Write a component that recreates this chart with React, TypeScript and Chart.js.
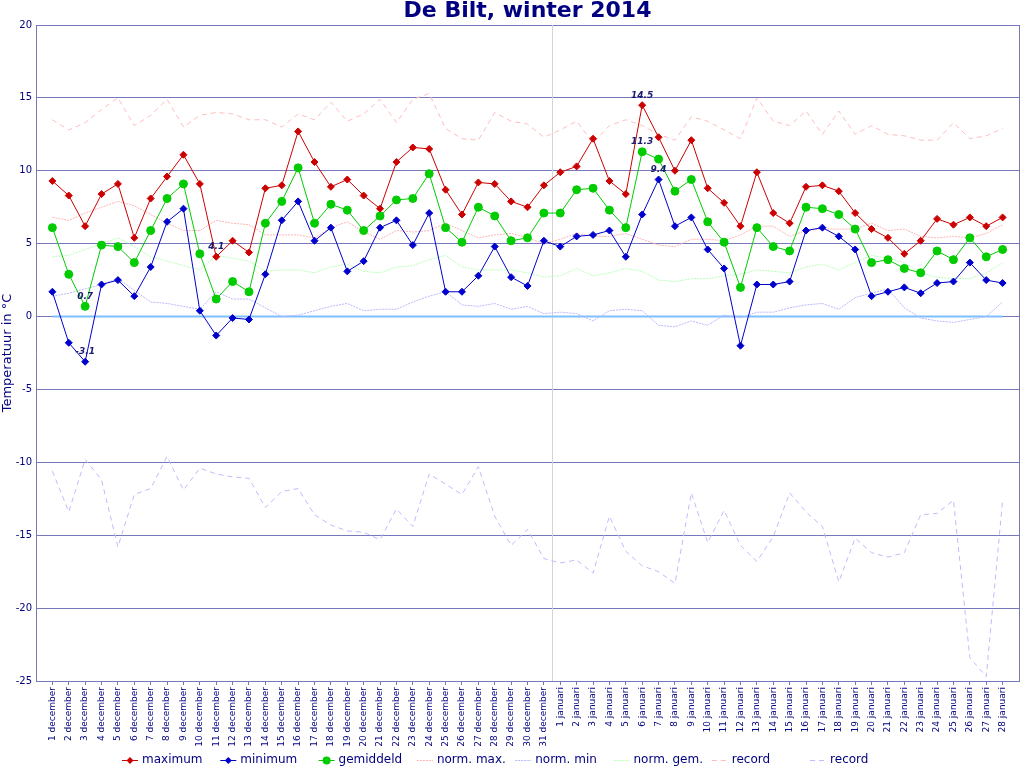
import { useEffect, useRef } from 'react';
import { Chart, registerables } from 'chart.js';

Chart.register(...registerables);

const FONT = 'DejaVu Sans';
const NAVY = '#000080';
const GRID = '#7777bb';

const decemberLabels = [
  '1 december', '2 december', '3 december', '4 december', '5 december', '6 december',
  '7 december', '8 december', '9 december', '10 december', '11 december', '12 december',
  '13 december', '14 december', '15 december', '16 december', '17 december', '18 december',
  '19 december', '20 december', '21 december', '22 december', '23 december', '24 december',
  '25 december', '26 december', '27 december', '28 december', '29 december', '30 december',
  '31 december',
];
const januariLabels = [
  '1 januari', '2 januari', '3 januari', '4 januari', '5 januari', '6 januari', '7 januari',
  '8 januari', '9 januari', '10 januari', '11 januari', '12 januari', '13 januari', '14 januari',
  '15 januari', '16 januari', '17 januari', '18 januari', '19 januari', '20 januari',
  '21 januari', '22 januari', '23 januari', '24 januari', '25 januari', '26 januari',
  '27 januari', '28 januari',
];
const days = [...decemberLabels, ...januariLabels];

const maximum = [
  9.3, 8.3, 6.2, 8.4, 9.1, 5.4, 8.1, 9.6, 11.1, 9.1, 4.1, 5.2, 4.4, 8.8, 9.0, 12.7, 10.6, 8.9,
  9.4, 8.3, 7.4, 10.6, 11.6, 11.5, 8.7, 7.0, 9.2, 9.1, 7.9, 7.5, 9.0,
  9.9, 10.3, 12.2, 9.3, 8.4, 14.5, 12.3, 10.0, 12.1, 8.8, 7.8, 6.2, 9.9, 7.1, 6.4, 8.9, 9.0,
  8.6, 7.1, 6.0, 5.4, 4.3, 5.2, 6.7, 6.3, 6.8, 6.2, 6.8,
];
const minimum = [
  1.7, -1.8, -3.1, 2.2, 2.5, 1.4, 3.4, 6.5, 7.4, 0.4, -1.3, -0.1, -0.2, 2.9, 6.6, 7.9, 5.2, 6.1,
  3.1, 3.8, 6.1, 6.6, 4.9, 7.1, 1.7, 1.7, 2.8, 4.8, 2.7, 2.1, 5.2,
  4.8, 5.5, 5.6, 5.9, 4.1, 7.0, 9.4, 6.2, 6.8, 4.6, 3.3, -2.0, 2.2, 2.2, 2.4, 5.9, 6.1, 5.5,
  4.6, 1.4, 1.7, 2.0, 1.6, 2.3, 2.4, 3.7, 2.5, 2.3,
];
const gemiddeld = [
  6.1, 2.9, 0.7, 4.9, 4.8, 3.7, 5.9, 8.1, 9.1, 4.3, 1.2, 2.4, 1.7, 6.4, 7.9, 10.2, 6.4, 7.7,
  7.3, 5.9, 6.9, 8.0, 8.1, 9.8, 6.1, 5.1, 7.5, 6.9, 5.2, 5.4, 7.1,
  7.1, 8.7, 8.8, 7.3, 6.1, 11.3, 10.8, 8.6, 9.4, 6.5, 5.1, 2.0, 6.1, 4.8, 4.5, 7.5, 7.4, 7.0,
  6.0, 3.7, 3.9, 3.3, 3.0, 4.5, 3.9, 5.4, 4.1, 4.6,
];
const normMax = [
  6.8, 6.6, 7.1, 7.5, 7.9, 7.6, 7.0, 6.4, 5.9, 5.9, 6.6, 6.4, 6.3, 5.6, 5.6, 5.6, 5.4, 6.1,
  6.5, 5.8, 5.3, 5.9, 5.8, 5.9, 6.4, 5.9, 5.4, 5.6, 5.7, 5.4, 5.0,
  5.3, 5.7, 5.5, 5.5, 5.7, 5.3, 4.9, 4.8, 5.3, 5.3, 5.2, 5.6, 6.2, 6.2, 5.5, 5.9, 6.0, 6.0,
  6.0, 6.4, 5.9, 6.0, 5.5, 5.4, 5.5, 5.4, 5.7, 6.3,
];
const normMin = [
  1.4, 1.6, 1.9, 2.2, 2.6, 1.8, 1.0, 0.9, 0.7, 0.5, 1.7, 1.2, 1.2, 0.6, 0.0, 0.1, 0.4, 0.7,
  0.9, 0.4, 0.5, 0.5, 1.0, 1.4, 1.7, 0.8, 0.7, 0.9, 0.5, 0.7, 0.2,
  0.3, 0.2, -0.3, 0.4, 0.5, 0.4, -0.6, -0.7, -0.3, -0.6, 0.1, -0.1, 0.3, 0.3, 0.6, 0.8, 0.9,
  0.5, 1.3, 1.6, 1.9, 0.6, -0.1, -0.3, -0.4, -0.2, 0.0, 1.0,
];
const normGem = [
  4.1, 4.2, 4.6, 5.0, 5.4, 4.8, 4.1, 3.8, 3.5, 3.2, 4.2, 4.0, 3.8, 3.1, 3.2, 3.2, 3.0, 3.4,
  3.6, 3.1, 3.0, 3.4, 3.5, 3.9, 4.2, 3.4, 3.2, 3.2, 3.2, 3.0, 2.7,
  2.8, 3.3, 2.8, 3.0, 3.3, 3.1, 2.5, 2.4, 2.6, 2.6, 2.8, 2.9, 3.2, 3.1, 3.0, 3.4, 3.6, 3.2,
  3.7, 4.2, 4.0, 3.7, 3.0, 2.7, 2.6, 2.6, 3.0, 3.7,
];
const recordMax = [
  13.5, 12.8, 13.3, 14.2, 15.0, 13.1, 13.8, 14.9, 13.0, 13.8, 14.0, 13.9, 13.5, 13.5, 13.0,
  13.9, 13.5, 14.7, 13.4, 13.9, 14.9, 13.3, 14.9, 15.3, 12.9, 12.2, 12.1, 14.0, 13.4, 13.2, 12.3,
  12.8, 13.4, 11.9, 13.1, 13.5, 13.1, 12.5, 12.1, 13.7, 13.4, 12.8, 12.2, 15.0, 13.4, 13.1,
  14.1, 12.5, 14.1, 12.5, 13.1, 12.5, 12.4, 12.1, 12.1, 13.3, 12.2, 12.4, 12.9,
];
const recordMin = [
  -10.6, -13.4, -9.8, -11.2, -15.8, -12.2, -11.8, -9.6, -11.9, -10.4, -10.8, -11.0, -11.1,
  -13.1, -12.0, -11.8, -13.6, -14.3, -14.7, -14.8, -15.3, -13.2, -14.4, -10.8, -11.5, -12.2,
  -10.3, -13.7, -15.7, -14.6, -16.6,
  -16.9, -16.7, -17.6, -13.7, -16.1, -17.1, -17.5, -18.3, -12.1, -15.5, -13.3, -15.7, -16.8,
  -15.1, -12.1, -13.4, -14.4, -18.2, -15.2, -16.2, -16.5, -16.2, -13.6, -13.5, -12.6, -23.4,
  -24.7, -12.6,
];

const toXY = (arr: number[]) => arr.map((y, i) => ({ x: i + 1, y }));

// grid frame, year separator and the 0 degree line
const framePlugin = {
  id: 'frame',
  beforeDatasetsDraw(chart: any) {
    const { ctx, chartArea, scales } = chart;
    const x = scales.x;
    const y = scales.y;
    ctx.save();
    ctx.strokeStyle = '#d4d4d4';
    ctx.lineWidth = 1;
    const sep = Math.round(x.getPixelForValue(decemberLabels.length + 0.5)) + 0.5;
    ctx.beginPath();
    ctx.moveTo(sep, chartArea.top);
    ctx.lineTo(sep, chartArea.bottom);
    ctx.stroke();

    ctx.strokeStyle = GRID;
    ctx.beginPath();
    ctx.moveTo(chartArea.right + 0.5, chartArea.top);
    ctx.lineTo(chartArea.right + 0.5, chartArea.bottom);
    ctx.stroke();

    ctx.strokeStyle = '#80bfff';
    ctx.lineWidth = 2;
    const y0 = y.getPixelForValue(0);
    ctx.beginPath();
    ctx.moveTo(x.getPixelForValue(1), y0);
    ctx.lineTo(x.getPixelForValue(days.length), y0);
    ctx.stroke();
    ctx.restore();
  },
};

// labels at highest and lowest value of the three measured series
const extremesPlugin = {
  id: 'extremes',
  afterDatasetsDraw(chart: any) {
    const { ctx } = chart;
    ctx.save();
    ctx.font = `italic bold 9px "${FONT}"`;
    ctx.fillStyle = '#1a1a70';
    ctx.textAlign = 'center';
    ctx.textBaseline = 'middle';
    [0, 1, 2].forEach((di) => {
      const values = chart.data.datasets[di].data.map((p: any) => p.y);
      const meta = chart.getDatasetMeta(di);
      const hi = values.indexOf(Math.max(...values));
      const lo = values.indexOf(Math.min(...values));
      [hi, lo].forEach((idx) => {
        const el = meta.data[idx];
        ctx.fillText(values[idx].toFixed(1), el.x, el.y - 10);
      });
    });
    ctx.restore();
  },
};

// title and legend in fixed slots
const decorPlugin = {
  id: 'decor',
  afterDraw(chart: any) {
    const { ctx, chartArea } = chart;
    ctx.save();
    ctx.fillStyle = NAVY;
    ctx.font = `bold 22px "${FONT}"`;
    ctx.textAlign = 'center';
    ctx.textBaseline = 'middle';
    ctx.fillText('De Bilt, winter 2014', (chartArea.left + chartArea.right) / 2, 11);

    const ly = 760;
    ctx.font = `12px "${FONT}"`;
    ctx.textAlign = 'left';
    chart.data.datasets.forEach((ds: any, i: number) => {
      const x0 = 122 + i * 98.3;
      ctx.strokeStyle = ds.borderColor;
      ctx.lineWidth = 1;
      ctx.setLineDash(ds.borderDash || []);
      ctx.beginPath();
      ctx.moveTo(x0, ly + 0.5);
      ctx.lineTo(x0 + 16, ly + 0.5);
      ctx.stroke();
      ctx.setLineDash([]);
      if (ds.pointRadius > 0) {
        const cx = x0 + 8;
        const r = ds.pointRadius;
        ctx.fillStyle = ds.borderColor;
        ctx.beginPath();
        if (ds.pointStyle === 'circle') {
          ctx.arc(cx, ly + 0.5, r, 0, Math.PI * 2);
        } else {
          ctx.moveTo(cx, ly + 0.5 - r);
          ctx.lineTo(cx + r, ly + 0.5);
          ctx.lineTo(cx, ly + 0.5 + r);
          ctx.lineTo(cx - r, ly + 0.5);
          ctx.closePath();
        }
        ctx.fill();
      }
      ctx.fillStyle = NAVY;
      ctx.fillText(ds.label, x0 + 20, ly);
    });
    ctx.restore();
  },
};

export default function App() {
  const chartRef = useRef<HTMLCanvasElement>(null);
  const chartInstance = useRef<Chart | null>(null);

  useEffect(() => {
    if (!chartRef.current) return;
    chartInstance.current?.destroy();
    const ctx = chartRef.current.getContext('2d');
    if (!ctx) return;

    const main = (label: string, data: number[], color: string, style: string, radius: number) => ({
      label,
      data: toXY(data),
      borderColor: color,
      backgroundColor: color,
      borderWidth: 1,
      pointStyle: style,
      pointRadius: radius,
      pointBorderWidth: 1,
      pointBackgroundColor: color,
      pointBorderColor: color,
    });
    const faint = (label: string, data: number[], color: string, dash: number[]) => ({
      label,
      data: toXY(data),
      borderColor: color,
      backgroundColor: color,
      borderWidth: 1,
      borderDash: dash,
      pointRadius: 0,
    });

    chartInstance.current = new Chart(ctx, {
      type: 'line',
      data: {
        datasets: [
          main('maximum', maximum, '#cc0000', 'rectRot', 3.5),
          main('minimum', minimum, '#0000cc', 'rectRot', 3.5),
          main('gemiddeld', gemiddeld, '#00cc00', 'circle', 4),
          faint('norm. max.', normMax, '#ffb4b4', [2, 1]),
          faint('norm. min', normMin, '#b8b8ff', [2, 1]),
          faint('norm. gem.', normGem, '#b8ffb8', [2, 1]),
          faint('record', recordMax, '#ffbcbc', [5, 4]),
          faint('record', recordMin, '#bcbcff', [5, 4]),
        ] as any,
      },
      options: {
        responsive: false,
        animation: false,
        layout: { padding: { top: 25, right: 2, bottom: 16, left: 0 } },
        plugins: {
          legend: { display: false },
          title: { display: false },
          tooltip: { enabled: false },
        },
        scales: {
          x: {
            type: 'linear',
            min: 0,
            max: days.length + 1,
            afterBuildTicks: (scale: any) => {
              scale.ticks = days.map((_, i) => ({ value: i + 1 }));
            },
            afterFit: (scale: any) => {
              scale.height = 71;
            },
            ticks: {
              autoSkip: false,
              maxRotation: 90,
              minRotation: 90,
              padding: 2,
              color: NAVY,
              font: { family: FONT, size: 9 },
              callback: (v: any) => days[Number(v) - 1] ?? '',
            },
            grid: { drawOnChartArea: false, drawTicks: true, tickLength: 4, tickColor: GRID },
            border: { color: GRID },
          },
          y: {
            min: -25,
            max: 20,
            afterFit: (scale: any) => {
              scale.width = 36;
            },
            ticks: {
              stepSize: 5,
              padding: 4,
              color: NAVY,
              font: { family: FONT, size: 10 },
            },
            grid: { color: GRID, drawTicks: false },
            border: { color: GRID },
            title: {
              display: true,
              text: 'Temperatuur in °C',
              color: NAVY,
              padding: 0,
              font: { family: FONT, size: 13 },
            },
          },
        },
      },
      plugins: [framePlugin, extremesPlugin, decorPlugin],
    });

    return () => {
      chartInstance.current?.destroy();
    };
  }, []);

  return (
    <div style={{ position: 'absolute', left: 0, top: 0, width: 1024, height: 768, background: '#fff' }}>
      <canvas ref={chartRef} width={1024} height={768} style={{ display: 'block' }} />
    </div>
  );
}
